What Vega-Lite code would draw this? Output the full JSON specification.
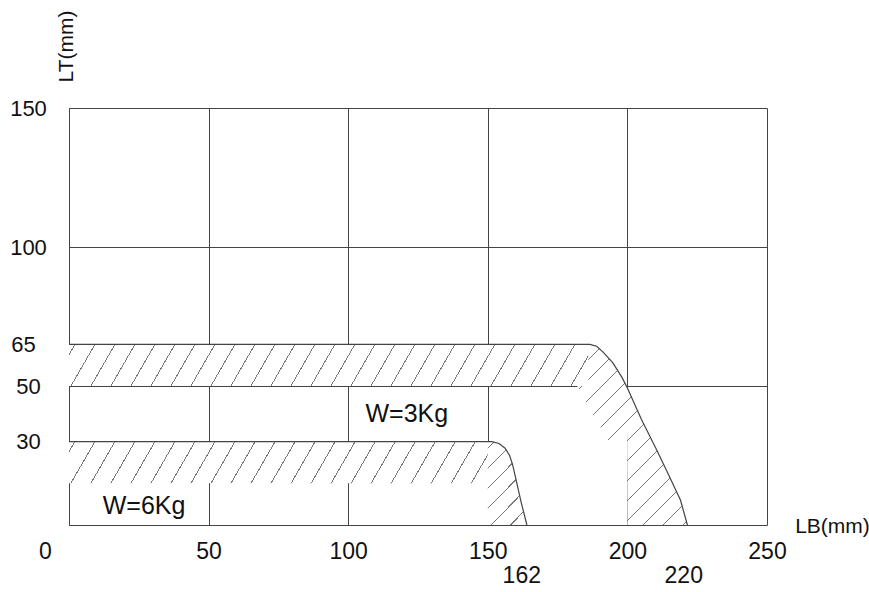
{
  "$schema": "https://vega.github.io/schema/vega-lite/v6.json",
  "autosize": {"type": "none"},
  "padding": {"left": 69, "top": 108, "right": 102, "bottom": 67},
  "width": 698,
  "height": 417,
  "background": "white",
  "config": {
    "view": {"stroke": null},
    "font": "Liberation Sans, Arial, sans-serif",
    "axis": {"zindex": 1}
  },
  "datasets": {
    "band3": [{"x": 0, "y": 65, "bottom": 50}, {"x": 186, "y": 65, "bottom": 50}],
    "corner3": [
      {"x": 182, "y": 50, "bottom": 50},
      {"x": 186, "y": 50, "bottom": 42.9},
      {"x": 186.01, "y": 65, "bottom": 42.9},
      {"x": 186.6, "y": 65, "bottom": 41.8},
      {"x": 189, "y": 64.3, "bottom": 37.6},
      {"x": 191.3, "y": 62.2, "bottom": 33.5},
      {"x": 194.8, "y": 58.3, "bottom": 27.3},
      {"x": 198, "y": 53.2, "bottom": 31},
      {"x": 199.9, "y": 49.5, "bottom": 33},
      {"x": 200, "y": 49.3, "bottom": 0},
      {"x": 205, "y": 38, "bottom": 0},
      {"x": 210.5, "y": 27, "bottom": 0},
      {"x": 215, "y": 17.5, "bottom": 0},
      {"x": 219, "y": 9, "bottom": 0},
      {"x": 221.5, "y": 0, "bottom": 0}
    ],
    "band6": [{"x": 0, "y": 30, "bottom": 15}, {"x": 150, "y": 30, "bottom": 15}],
    "corner6": [
      {"x": 150, "y": 30, "bottom": 0},
      {"x": 151.5, "y": 30, "bottom": 0},
      {"x": 154, "y": 29.3, "bottom": 0},
      {"x": 156.2, "y": 27.6, "bottom": 0},
      {"x": 157.8, "y": 25, "bottom": 0},
      {"x": 158.8, "y": 22, "bottom": 0},
      {"x": 159.5, "y": 19, "bottom": 0},
      {"x": 162, "y": 8, "bottom": 0},
      {"x": 164, "y": 0, "bottom": 0}
    ],
    "curve3": [
      {"x": 0, "y": 65}, {"x": 186.6, "y": 65}, {"x": 189, "y": 64.3}, {"x": 191.3, "y": 62.2},
      {"x": 194.8, "y": 58.3}, {"x": 198, "y": 53.2}, {"x": 200, "y": 49.3}, {"x": 205, "y": 38},
      {"x": 210.5, "y": 27}, {"x": 215, "y": 17.5}, {"x": 219, "y": 9}, {"x": 221.5, "y": 0}
    ],
    "curve6": [
      {"x": 0, "y": 30}, {"x": 151.5, "y": 30}, {"x": 154, "y": 29.3}, {"x": 156.2, "y": 27.6},
      {"x": 157.8, "y": 25}, {"x": 158.8, "y": 22}, {"x": 159.5, "y": 19}, {"x": 162, "y": 8}, {"x": 164, "y": 0}
    ],
    "labels": [
      {"x": 121, "y": 37, "text": "W=3Kg"},
      {"x": 26.9, "y": 3.8, "text": "W=6Kg"}
    ]
  },
  "encoding": {
    "x": {"field": "x", "type": "quantitative", "scale": {"domain": [0, 250], "nice": false, "zero": false},
      "axis": {
        "values": [0, 50, 100, 150, 162, 200, 220, 250],
        "title": "LB(mm)",
        "titleX": 763, "titleY": 1, "titleAlign": "center", "titleBaseline": "middle", "titleAngle": 0,
        "titleFontSize": 21, "titleFontWeight": "normal", "titleColor": "#111111",
        "ticks": false,
        "domainColor": "#444444", "domainWidth": 1,
        "grid": true, "gridColor": "#444444", "gridWidth": 1,
        "gridOpacity": {"condition": {"test": "datum.value == 162 || datum.value == 220", "value": 0}, "value": 1},
        "labelFontSize": 23, "labelColor": "#111111", "labelBaseline": "middle",
        "labelPadding": {"condition": {"test": "datum.value == 162 || datum.value == 220", "value": 50}, "value": 26},
        "labelOffset": {"condition": {"test": "datum.value == 0", "value": -24}, "value": 0},
        "labelOverlap": false, "labelFlush": false
      }
    },
    "y": {"field": "y", "type": "quantitative", "scale": {"domain": [0, 150], "nice": false, "zero": false},
      "axis": {
        "values": [30, 50, 65, 100, 150],
        "title": "LT(mm)",
        "titleX": -3, "titleY": -62, "titleAlign": "center", "titleBaseline": "middle", "titleAngle": 270,
        "titleFontSize": 21, "titleFontWeight": "normal", "titleColor": "#111111",
        "ticks": false,
        "domainColor": "#444444", "domainWidth": 1,
        "grid": true, "gridColor": "#444444", "gridWidth": 1,
        "gridOpacity": {"condition": {"test": "datum.value == 30 || datum.value == 65", "value": 0}, "value": 1},
        "labelFontSize": 22, "labelColor": "#111111", "labelAlign": "center", "labelBaseline": "middle",
        "labelPadding": {"condition": {"test": "datum.value == 65", "value": 46}, "value": 41},
        "labelOverlap": false, "labelFlush": false
      }
    }
  },
  "layer": [
    {
      "data": {"name": "band3"},
      "mark": {
        "type": "area", "orient": "vertical",
        "fill": {
          "gradient": "linear", "x1": 0, "y1": 0, "x2": 1.0442, "y2": 0.0484,
          "stops": [
            {"offset": 0, "color": "#ffffff"},
            {"offset": 0.0100, "color": "#ffffff"}, {"offset": 0.0100, "color": "#777777"}, {"offset": 0.0120, "color": "#777777"}, {"offset": 0.0120, "color": "#ffffff"},
            {"offset": 0.0468, "color": "#ffffff"}, {"offset": 0.0468, "color": "#777777"}, {"offset": 0.0488, "color": "#777777"}, {"offset": 0.0488, "color": "#ffffff"},
            {"offset": 0.0836, "color": "#ffffff"}, {"offset": 0.0836, "color": "#777777"}, {"offset": 0.0856, "color": "#777777"}, {"offset": 0.0856, "color": "#ffffff"},
            {"offset": 0.1204, "color": "#ffffff"}, {"offset": 0.1204, "color": "#777777"}, {"offset": 0.1224, "color": "#777777"}, {"offset": 0.1224, "color": "#ffffff"},
            {"offset": 0.1572, "color": "#ffffff"}, {"offset": 0.1572, "color": "#777777"}, {"offset": 0.1592, "color": "#777777"}, {"offset": 0.1592, "color": "#ffffff"},
            {"offset": 0.1940, "color": "#ffffff"}, {"offset": 0.1940, "color": "#777777"}, {"offset": 0.1960, "color": "#777777"}, {"offset": 0.1960, "color": "#ffffff"},
            {"offset": 0.2308, "color": "#ffffff"}, {"offset": 0.2308, "color": "#777777"}, {"offset": 0.2328, "color": "#777777"}, {"offset": 0.2328, "color": "#ffffff"},
            {"offset": 0.2676, "color": "#ffffff"}, {"offset": 0.2676, "color": "#777777"}, {"offset": 0.2696, "color": "#777777"}, {"offset": 0.2696, "color": "#ffffff"},
            {"offset": 0.3044, "color": "#ffffff"}, {"offset": 0.3044, "color": "#777777"}, {"offset": 0.3064, "color": "#777777"}, {"offset": 0.3064, "color": "#ffffff"},
            {"offset": 0.3412, "color": "#ffffff"}, {"offset": 0.3412, "color": "#777777"}, {"offset": 0.3432, "color": "#777777"}, {"offset": 0.3432, "color": "#ffffff"},
            {"offset": 0.3780, "color": "#ffffff"}, {"offset": 0.3780, "color": "#777777"}, {"offset": 0.3800, "color": "#777777"}, {"offset": 0.3800, "color": "#ffffff"},
            {"offset": 0.4148, "color": "#ffffff"}, {"offset": 0.4148, "color": "#777777"}, {"offset": 0.4168, "color": "#777777"}, {"offset": 0.4168, "color": "#ffffff"},
            {"offset": 0.4516, "color": "#ffffff"}, {"offset": 0.4516, "color": "#777777"}, {"offset": 0.4536, "color": "#777777"}, {"offset": 0.4536, "color": "#ffffff"},
            {"offset": 0.4884, "color": "#ffffff"}, {"offset": 0.4884, "color": "#777777"}, {"offset": 0.4904, "color": "#777777"}, {"offset": 0.4904, "color": "#ffffff"},
            {"offset": 0.5252, "color": "#ffffff"}, {"offset": 0.5252, "color": "#777777"}, {"offset": 0.5272, "color": "#777777"}, {"offset": 0.5272, "color": "#ffffff"},
            {"offset": 0.5620, "color": "#ffffff"}, {"offset": 0.5620, "color": "#777777"}, {"offset": 0.5640, "color": "#777777"}, {"offset": 0.5640, "color": "#ffffff"},
            {"offset": 0.5988, "color": "#ffffff"}, {"offset": 0.5988, "color": "#777777"}, {"offset": 0.6008, "color": "#777777"}, {"offset": 0.6008, "color": "#ffffff"},
            {"offset": 0.6356, "color": "#ffffff"}, {"offset": 0.6356, "color": "#777777"}, {"offset": 0.6376, "color": "#777777"}, {"offset": 0.6376, "color": "#ffffff"},
            {"offset": 0.6724, "color": "#ffffff"}, {"offset": 0.6724, "color": "#777777"}, {"offset": 0.6744, "color": "#777777"}, {"offset": 0.6744, "color": "#ffffff"},
            {"offset": 0.7092, "color": "#ffffff"}, {"offset": 0.7092, "color": "#777777"}, {"offset": 0.7112, "color": "#777777"}, {"offset": 0.7112, "color": "#ffffff"},
            {"offset": 0.7460, "color": "#ffffff"}, {"offset": 0.7460, "color": "#777777"}, {"offset": 0.7480, "color": "#777777"}, {"offset": 0.7480, "color": "#ffffff"},
            {"offset": 0.7828, "color": "#ffffff"}, {"offset": 0.7828, "color": "#777777"}, {"offset": 0.7848, "color": "#777777"}, {"offset": 0.7848, "color": "#ffffff"},
            {"offset": 0.8196, "color": "#ffffff"}, {"offset": 0.8196, "color": "#777777"}, {"offset": 0.8216, "color": "#777777"}, {"offset": 0.8216, "color": "#ffffff"},
            {"offset": 0.8564, "color": "#ffffff"}, {"offset": 0.8564, "color": "#777777"}, {"offset": 0.8584, "color": "#777777"}, {"offset": 0.8584, "color": "#ffffff"},
            {"offset": 0.8932, "color": "#ffffff"}, {"offset": 0.8932, "color": "#777777"}, {"offset": 0.8952, "color": "#777777"}, {"offset": 0.8952, "color": "#ffffff"},
            {"offset": 0.9300, "color": "#ffffff"}, {"offset": 0.9300, "color": "#777777"}, {"offset": 0.9320, "color": "#777777"}, {"offset": 0.9320, "color": "#ffffff"},
            {"offset": 0.9668, "color": "#ffffff"}, {"offset": 0.9668, "color": "#777777"}, {"offset": 0.9688, "color": "#777777"}, {"offset": 0.9688, "color": "#ffffff"},
            {"offset": 1, "color": "#ffffff"}
          ]
        }
      },
      "encoding": {"y2": {"field": "bottom"}}
    },
    {
      "data": {"name": "corner3"},
      "mark": {
        "type": "area", "orient": "vertical",
        "fill": {
          "gradient": "linear", "x1": 0, "y1": 0, "x2": 0.716, "y2": 1.173,
          "stops": [
            {"offset": 0, "color": "#ffffff"},
            {"offset": 0.0200, "color": "#ffffff"}, {"offset": 0.0200, "color": "#777777"}, {"offset": 0.0245, "color": "#777777"}, {"offset": 0.0245, "color": "#ffffff"},
            {"offset": 0.0887, "color": "#ffffff"}, {"offset": 0.0887, "color": "#777777"}, {"offset": 0.0932, "color": "#777777"}, {"offset": 0.0932, "color": "#ffffff"},
            {"offset": 0.1574, "color": "#ffffff"}, {"offset": 0.1574, "color": "#777777"}, {"offset": 0.1619, "color": "#777777"}, {"offset": 0.1619, "color": "#ffffff"},
            {"offset": 0.2261, "color": "#ffffff"}, {"offset": 0.2261, "color": "#777777"}, {"offset": 0.2306, "color": "#777777"}, {"offset": 0.2306, "color": "#ffffff"},
            {"offset": 0.2948, "color": "#ffffff"}, {"offset": 0.2948, "color": "#777777"}, {"offset": 0.2993, "color": "#777777"}, {"offset": 0.2993, "color": "#ffffff"},
            {"offset": 0.3635, "color": "#ffffff"}, {"offset": 0.3635, "color": "#777777"}, {"offset": 0.3680, "color": "#777777"}, {"offset": 0.3680, "color": "#ffffff"},
            {"offset": 0.4322, "color": "#ffffff"}, {"offset": 0.4322, "color": "#777777"}, {"offset": 0.4367, "color": "#777777"}, {"offset": 0.4367, "color": "#ffffff"},
            {"offset": 0.5009, "color": "#ffffff"}, {"offset": 0.5009, "color": "#777777"}, {"offset": 0.5054, "color": "#777777"}, {"offset": 0.5054, "color": "#ffffff"},
            {"offset": 0.5696, "color": "#ffffff"}, {"offset": 0.5696, "color": "#777777"}, {"offset": 0.5741, "color": "#777777"}, {"offset": 0.5741, "color": "#ffffff"},
            {"offset": 0.6383, "color": "#ffffff"}, {"offset": 0.6383, "color": "#777777"}, {"offset": 0.6428, "color": "#777777"}, {"offset": 0.6428, "color": "#ffffff"},
            {"offset": 0.7070, "color": "#ffffff"}, {"offset": 0.7070, "color": "#777777"}, {"offset": 0.7115, "color": "#777777"}, {"offset": 0.7115, "color": "#ffffff"},
            {"offset": 0.7757, "color": "#ffffff"}, {"offset": 0.7757, "color": "#777777"}, {"offset": 0.7802, "color": "#777777"}, {"offset": 0.7802, "color": "#ffffff"},
            {"offset": 0.8444, "color": "#ffffff"}, {"offset": 0.8444, "color": "#777777"}, {"offset": 0.8489, "color": "#777777"}, {"offset": 0.8489, "color": "#ffffff"},
            {"offset": 0.9131, "color": "#ffffff"}, {"offset": 0.9131, "color": "#777777"}, {"offset": 0.9176, "color": "#777777"}, {"offset": 0.9176, "color": "#ffffff"},
            {"offset": 0.9818, "color": "#ffffff"}, {"offset": 0.9818, "color": "#777777"}, {"offset": 0.9863, "color": "#777777"}, {"offset": 0.9863, "color": "#ffffff"},
            {"offset": 1, "color": "#ffffff"}
          ]
        }
      },
      "encoding": {"y2": {"field": "bottom"}}
    },
    {
      "data": {"name": "band6"},
      "mark": {
        "type": "area", "orient": "vertical",
        "fill": {
          "gradient": "linear", "x1": 0, "y1": 0, "x2": 1.0541, "y2": 0.0606,
          "stops": [
            {"offset": 0, "color": "#ffffff"},
            {"offset": 0.0120, "color": "#ffffff"}, {"offset": 0.0120, "color": "#777777"}, {"offset": 0.0145, "color": "#777777"}, {"offset": 0.0145, "color": "#ffffff"},
            {"offset": 0.0572, "color": "#ffffff"}, {"offset": 0.0572, "color": "#777777"}, {"offset": 0.0597, "color": "#777777"}, {"offset": 0.0597, "color": "#ffffff"},
            {"offset": 0.1024, "color": "#ffffff"}, {"offset": 0.1024, "color": "#777777"}, {"offset": 0.1049, "color": "#777777"}, {"offset": 0.1049, "color": "#ffffff"},
            {"offset": 0.1476, "color": "#ffffff"}, {"offset": 0.1476, "color": "#777777"}, {"offset": 0.1501, "color": "#777777"}, {"offset": 0.1501, "color": "#ffffff"},
            {"offset": 0.1928, "color": "#ffffff"}, {"offset": 0.1928, "color": "#777777"}, {"offset": 0.1953, "color": "#777777"}, {"offset": 0.1953, "color": "#ffffff"},
            {"offset": 0.2380, "color": "#ffffff"}, {"offset": 0.2380, "color": "#777777"}, {"offset": 0.2405, "color": "#777777"}, {"offset": 0.2405, "color": "#ffffff"},
            {"offset": 0.2832, "color": "#ffffff"}, {"offset": 0.2832, "color": "#777777"}, {"offset": 0.2857, "color": "#777777"}, {"offset": 0.2857, "color": "#ffffff"},
            {"offset": 0.3284, "color": "#ffffff"}, {"offset": 0.3284, "color": "#777777"}, {"offset": 0.3309, "color": "#777777"}, {"offset": 0.3309, "color": "#ffffff"},
            {"offset": 0.3736, "color": "#ffffff"}, {"offset": 0.3736, "color": "#777777"}, {"offset": 0.3761, "color": "#777777"}, {"offset": 0.3761, "color": "#ffffff"},
            {"offset": 0.4188, "color": "#ffffff"}, {"offset": 0.4188, "color": "#777777"}, {"offset": 0.4213, "color": "#777777"}, {"offset": 0.4213, "color": "#ffffff"},
            {"offset": 0.4640, "color": "#ffffff"}, {"offset": 0.4640, "color": "#777777"}, {"offset": 0.4665, "color": "#777777"}, {"offset": 0.4665, "color": "#ffffff"},
            {"offset": 0.5092, "color": "#ffffff"}, {"offset": 0.5092, "color": "#777777"}, {"offset": 0.5117, "color": "#777777"}, {"offset": 0.5117, "color": "#ffffff"},
            {"offset": 0.5544, "color": "#ffffff"}, {"offset": 0.5544, "color": "#777777"}, {"offset": 0.5569, "color": "#777777"}, {"offset": 0.5569, "color": "#ffffff"},
            {"offset": 0.5996, "color": "#ffffff"}, {"offset": 0.5996, "color": "#777777"}, {"offset": 0.6021, "color": "#777777"}, {"offset": 0.6021, "color": "#ffffff"},
            {"offset": 0.6448, "color": "#ffffff"}, {"offset": 0.6448, "color": "#777777"}, {"offset": 0.6473, "color": "#777777"}, {"offset": 0.6473, "color": "#ffffff"},
            {"offset": 0.6900, "color": "#ffffff"}, {"offset": 0.6900, "color": "#777777"}, {"offset": 0.6925, "color": "#777777"}, {"offset": 0.6925, "color": "#ffffff"},
            {"offset": 0.7352, "color": "#ffffff"}, {"offset": 0.7352, "color": "#777777"}, {"offset": 0.7377, "color": "#777777"}, {"offset": 0.7377, "color": "#ffffff"},
            {"offset": 0.7804, "color": "#ffffff"}, {"offset": 0.7804, "color": "#777777"}, {"offset": 0.7829, "color": "#777777"}, {"offset": 0.7829, "color": "#ffffff"},
            {"offset": 0.8256, "color": "#ffffff"}, {"offset": 0.8256, "color": "#777777"}, {"offset": 0.8281, "color": "#777777"}, {"offset": 0.8281, "color": "#ffffff"},
            {"offset": 0.8708, "color": "#ffffff"}, {"offset": 0.8708, "color": "#777777"}, {"offset": 0.8733, "color": "#777777"}, {"offset": 0.8733, "color": "#ffffff"},
            {"offset": 0.9160, "color": "#ffffff"}, {"offset": 0.9160, "color": "#777777"}, {"offset": 0.9185, "color": "#777777"}, {"offset": 0.9185, "color": "#ffffff"},
            {"offset": 0.9612, "color": "#ffffff"}, {"offset": 0.9612, "color": "#777777"}, {"offset": 0.9637, "color": "#777777"}, {"offset": 0.9637, "color": "#ffffff"},
            {"offset": 1, "color": "#ffffff"}
          ]
        }
      },
      "encoding": {"y2": {"field": "bottom"}}
    },
    {
      "data": {"name": "corner6"},
      "mark": {
        "type": "area", "orient": "vertical",
        "fill": {
          "gradient": "linear", "x1": 0, "y1": 0, "x2": 0.5796, "y2": 1.2026,
          "stops": [
            {"offset": 0, "color": "#ffffff"},
            {"offset": 0.0500, "color": "#ffffff"}, {"offset": 0.0500, "color": "#777777"}, {"offset": 0.0605, "color": "#777777"}, {"offset": 0.0605, "color": "#ffffff"},
            {"offset": 0.2118, "color": "#ffffff"}, {"offset": 0.2118, "color": "#777777"}, {"offset": 0.2223, "color": "#777777"}, {"offset": 0.2223, "color": "#ffffff"},
            {"offset": 0.3736, "color": "#ffffff"}, {"offset": 0.3736, "color": "#777777"}, {"offset": 0.3841, "color": "#777777"}, {"offset": 0.3841, "color": "#ffffff"},
            {"offset": 0.5354, "color": "#ffffff"}, {"offset": 0.5354, "color": "#777777"}, {"offset": 0.5459, "color": "#777777"}, {"offset": 0.5459, "color": "#ffffff"},
            {"offset": 0.6972, "color": "#ffffff"}, {"offset": 0.6972, "color": "#777777"}, {"offset": 0.7077, "color": "#777777"}, {"offset": 0.7077, "color": "#ffffff"},
            {"offset": 0.8590, "color": "#ffffff"}, {"offset": 0.8590, "color": "#777777"}, {"offset": 0.8695, "color": "#777777"}, {"offset": 0.8695, "color": "#ffffff"},
            {"offset": 1, "color": "#ffffff"}
          ]
        }
      },
      "encoding": {"y2": {"field": "bottom"}}
    },
    {
      "data": {"name": "curve3"},
      "mark": {"type": "line", "color": "#444444", "strokeWidth": 1.2},
      "encoding": {}
    },
    {
      "data": {"name": "curve6"},
      "mark": {"type": "line", "color": "#444444", "strokeWidth": 1.2},
      "encoding": {}
    },
    {
      "data": {"name": "labels"},
      "mark": {"type": "text", "align": "center", "baseline": "alphabetic", "fontSize": 25, "color": "#111111"},
      "encoding": {"text": {"field": "text"}}
    }
  ]
}
